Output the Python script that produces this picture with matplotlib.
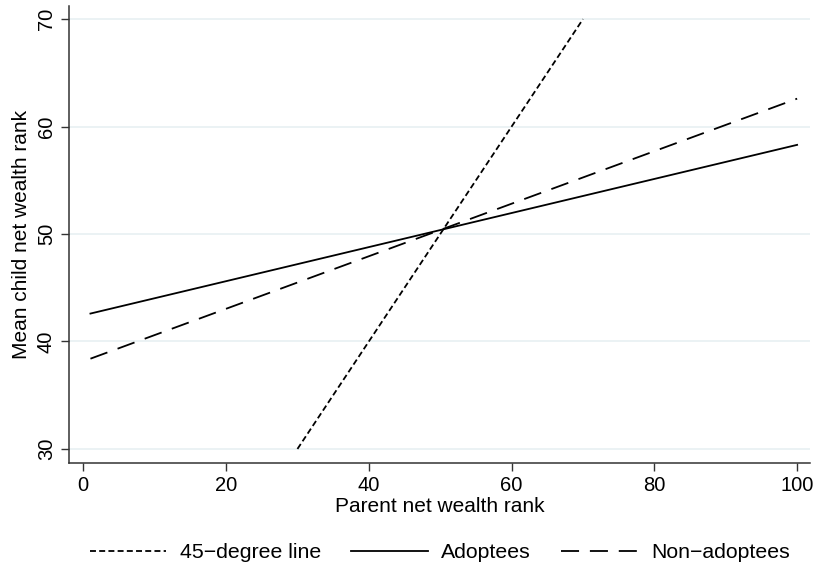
import matplotlib.pyplot as plt

plt.rcParams['font.family'] = ['Liberation Sans', 'DejaVu Sans']

# Line endpoints
deg45_x = [30, 70]
deg45_y = [30, 70]

parent_rank = [1, 100]
adoptees = [42.6, 58.3]
non_adoptees = [38.4, 62.6]

x_ticks = [0, 20, 40, 60, 80, 100]
y_ticks = [30, 40, 50, 60, 70]

fig = plt.figure(figsize=(8.16, 5.68), dpi=100)
ax = fig.add_axes([0.0846, 0.185, 0.908, 0.804])

fs = 14.5
lw = 1.3

ax.plot(deg45_x, deg45_y, color='black', lw=lw, dashes=(3.3, 1.8), label='45\u2212degree line')
ax.plot(parent_rank, adoptees, color='black', lw=lw, label='Adoptees')
ax.plot(parent_rank, non_adoptees, color='black', lw=lw, dashes=(10, 6), label='Non\u2212adoptees')

ax.set_xlim(-2, 101.8)
ax.set_ylim(28.7, 71.2)
ax.set_xticks(x_ticks)
ax.set_yticks(y_ticks)
ax.set_yticklabels([str(v) for v in y_ticks], rotation=90, va='center')
ax.tick_params(labelsize=fs, length=6, width=1, color='#333333')
ax.grid(axis='y', color='#e8f0f2', lw=1.2)
ax.set_axisbelow(True)

for side in ['top', 'right']:
    ax.spines[side].set_visible(False)
for side in ['left', 'bottom']:
    ax.spines[side].set_color('#333333')
    ax.spines[side].set_linewidth(1.1)

ax.set_xlabel('Parent net wealth rank', fontsize=15, labelpad=1)
ax.set_ylabel('Mean child net wealth rank', fontsize=15, labelpad=4)

fig.legend(loc='center', bbox_to_anchor=(0.539, 0.027), ncol=3, frameon=False,
           fontsize=15.3, handlelength=3.6, handletextpad=0.65, columnspacing=1.4)

fig.savefig('out.png', dpi=100)
